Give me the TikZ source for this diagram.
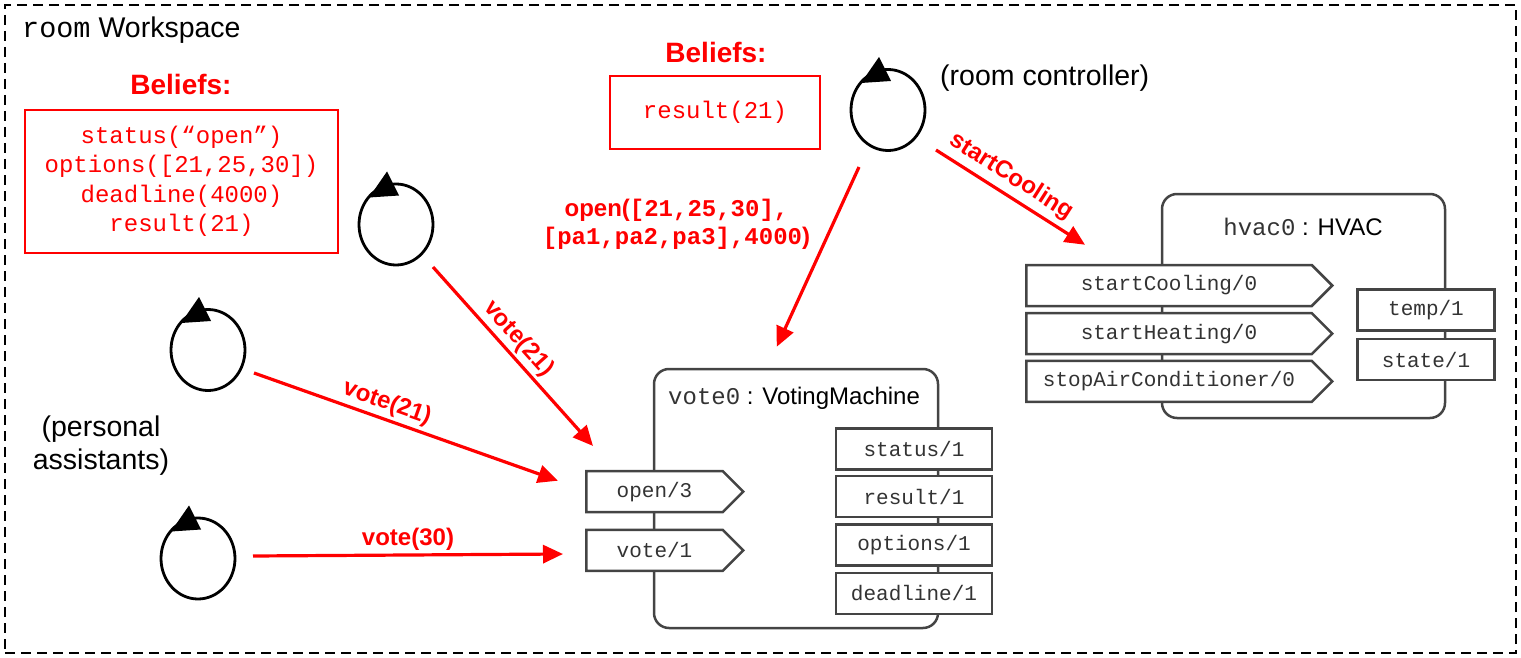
\documentclass[tikz,border=0pt]{standalone}
\usepackage{fontspec}
\setmainfont{Liberation Sans}
\setmonofont{Liberation Mono}
\usetikzlibrary{arrows.meta,shapes.geometric,shapes.symbols,calc}
\definecolor{boxgray}{HTML}{444444}
\definecolor{txtgray}{HTML}{333333}
\begin{document}
\begin{tikzpicture}[x=1pt,y=-1pt,
  agent/.style={draw=black, line width=2.8pt, ellipse, minimum width=74pt, minimum height=81pt, inner sep=0pt},
  msg/.style={draw=red, line width=3.2pt, -{Triangle[length=20pt,width=18pt]}},
  lbl/.style={text=red, font=\fontsize{24}{28}\selectfont\bfseries, inner sep=3pt},
  beliefbox/.style={draw=red, line width=2.2pt, rectangle, inner sep=0pt, align=center, text=red, font=\ttfamily\fontsize{24}{29.5}\selectfont},
  belieftitle/.style={text=red, font=\fontsize{28}{32}\selectfont\bfseries},
  port/.style={signal, signal to=east, signal pointer angle=90, draw=boxgray, fill=white, line width=2.5pt, minimum height=41pt, inner sep=0pt, font=\ttfamily\fontsize{21}{24}\selectfont, text=txtgray},
  prop/.style={rectangle, draw=boxgray, fill=white, line width=2.5pt, minimum height=41pt, inner sep=0pt, font=\ttfamily\fontsize{21}{24}\selectfont, text=txtgray},
  artifact/.style={rectangle, rounded corners=15pt, draw=boxgray, line width=2.5pt, inner sep=0pt},
  plain/.style={font=\fontsize{28.5}{33}\selectfont, text=black}
]
\useasboundingbox (0,0) rectangle (1521,658);

% workspace
\node[draw=black, line width=2pt, dash pattern=on 10pt off 6pt, minimum width=1511pt, minimum height=648pt, inner sep=0pt] (ws) at (760.5,329) {};
\node[plain, anchor=base west, inner sep=0pt] (wstitle) at (22,38) {\texttt{room} Workspace};

% beliefs
\node[belieftitle] (bt1) at (181,84) {Beliefs:};
\node[beliefbox, minimum width=313pt, minimum height=143pt] (b1) at (181.5,181.5) {status(“open”)\\options([21,25,30])\\deadline(4000)\\result(21)};
\node[belieftitle] (bt2) at (716,52) {Beliefs:};
\node[beliefbox, minimum width=210pt, minimum height=73pt] (b2) at (715,112.5) {result(21)};

% agents
\newcommand\agentcycle[1]{\fill ($(#1)+(-9,-53)$) -- ($(#1)+(-27,-27)$) -- ($(#1)+(3,-29)$) -- cycle;}
\node[agent] (paA) at (396,224.5) {};
\node[agent] (paB) at (208,350) {};
\node[agent] (paC) at (198,558.5) {};
\node[agent] (rc) at (888,110) {};
\agentcycle{paA}
\agentcycle{paB}
\agentcycle{paC}
\agentcycle{rc}
\node[plain, anchor=west, inner sep=0pt] (rclabel) at (940,78) {(room controller)};
\node[plain, align=center, inner sep=0pt] (palabel) at (101,446) {(personal\\assistants)};

% voting machine artifact
\node[artifact, minimum width=284pt, minimum height=259pt] (vm) at (796,498.5) {};
\node[anchor=west, inner sep=0pt, font=\fontsize{24}{28}\selectfont] (vmtitle) at (668,398) {\textcolor{txtgray}{\ttfamily vote0} : VotingMachine};
\node[port, minimum width=157pt] (openp) at (654.5,491.7) {open/3};
\node[port, minimum width=157pt] (votep) at (654.5,550.3) {vote/1};
\node[prop, minimum width=156pt] (statusp) at (914,448.8) {status/1};
\node[prop, minimum width=156pt] (resultp) at (914,496.7) {result/1};
\node[prop, minimum width=156pt] (optionsp) at (914,545) {options/1};
\node[prop, minimum width=156pt] (deadlinep) at (914,593.3) {deadline/1};

% hvac artifact
\node[artifact, minimum width=283pt, minimum height=224pt] (hv) at (1303.5,306) {};
\node[inner sep=0pt, font=\fontsize{24}{28}\selectfont] (hvtitle) at (1303,227) {\textcolor{txtgray}{\ttfamily hvac0} : HVAC};
\node[port, minimum width=306pt] (coolp) at (1169,285.5) {startCooling/0};
\node[port, minimum width=306pt] (heatp) at (1169,333.7) {startHeating/0};
\node[port, minimum width=306pt] (stopp) at (1169,381.3) {stopAirConditioner/0};
\node[prop, minimum width=137pt] (tempp) at (1426,310) {temp/1};
\node[prop, minimum width=137pt] (statep) at (1426,359.7) {state/1};

% connector end points
\coordinate (sA) at ($(paA)+(37,42.5)$);
\coordinate (eA) at ($(openp.north west)+(8,-24)$);
\coordinate (sB) at ($(paB)+(46,23)$);
\coordinate (eB) at ($(openp.west)+(-27,-11)$);
\coordinate (sC) at ($(paC)+(55,-2.5)$);
\coordinate (eC) at ($(votep.west)+(-22,3.7)$);
\coordinate (sR1) at ($(rc)+(-29,57)$);
\coordinate (eR1) at ($(vm.north west)+(124,-21)$);
\coordinate (sR2) at ($(rc)+(48,40)$);
\coordinate (eR2) at ($(coolp.north west)+(60,-19)$);

\draw[msg] (sA) -- node[lbl, sloped, above, pos=0.46] {vote(21)} (eA);
\draw[msg] (sB) -- node[lbl, sloped, above, pos=0.42] {vote(21)} (eB);
\draw[msg] (sC) -- node[lbl, above, pos=0.5] {vote(30)} (eC);
\draw[msg] (sR1) -- node[lbl, align=center, anchor=east, pos=0.32, xshift=-18pt] {open(\texttt{[21,25,30],}\\\texttt{[pa1,pa2,pa3],4000})} (eR1);
\draw[msg] (sR2) -- node[lbl, sloped, above, pos=0.44, yshift=2pt] {startCooling} (eR2);
\end{tikzpicture}
\end{document}
